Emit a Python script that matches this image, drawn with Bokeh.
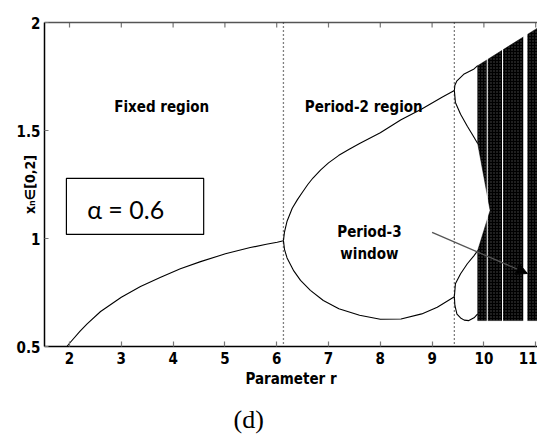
import math
from bokeh.plotting import figure
from bokeh.models import Range1d, LinearAxis, FixedTicker, Label, Arrow, NormalHead, Span, Title
from bokeh.embed import file_html
from bokeh.resources import INLINE

# ---- data ----
fixed_r = [1.95, 2.0, 2.2, 2.34, 2.6, 3.0, 3.37, 3.76, 4.14, 4.53, 5.01, 5.49, 5.8, 6.01, 6.13]
fixed_x = [0.50, 0.515, 0.57, 0.605, 0.662, 0.728, 0.778, 0.821, 0.86, 0.893, 0.929, 0.958, 0.973, 0.983, 0.99]

upper2_r = [6.13, 6.15, 6.2, 6.3, 6.4, 6.5, 6.6, 6.7, 6.85, 7.0, 7.2, 7.4, 7.6, 8.0, 8.4, 8.8, 9.2, 9.43]
upper2_x = [0.99, 1.03, 1.08, 1.14, 1.18, 1.215, 1.25, 1.28, 1.318, 1.35, 1.385, 1.413, 1.44, 1.49, 1.55, 1.60, 1.655, 1.685]

lower2_r = [6.13, 6.15, 6.2, 6.33, 6.46, 6.65, 6.9, 7.2, 7.6, 8.0, 8.4, 8.8, 9.1, 9.43]
lower2_x = [0.99, 0.95, 0.91, 0.85, 0.806, 0.76, 0.713, 0.675, 0.645, 0.626, 0.627, 0.651, 0.682, 0.73]

upper4a_r = [9.43, 9.44, 9.48, 9.61, 9.81, 9.88]
upper4a_x = [1.685, 1.71, 1.73, 1.76, 1.785, 1.80]
upper4b_r = [9.43, 9.45, 9.55, 9.68, 9.78, 9.88]
upper4b_x = [1.685, 1.63, 1.575, 1.52, 1.48, 1.44]
lower4a_r = [9.43, 9.45, 9.55, 9.68, 9.81, 9.88]
lower4a_x = [0.73, 0.79, 0.837, 0.883, 0.921, 0.944]
lower4b_r = [9.43, 9.44, 9.48, 9.55, 9.62, 9.71, 9.81, 9.88]
lower4b_x = [0.73, 0.69, 0.65, 0.632, 0.622, 0.62, 0.633, 0.651]

# chaotic band envelope (r, x) going round the black region
chaos_r = [9.88, 9.88, 10.12, 9.88, 9.88, 11.04, 11.04]
chaos_x = [0.62, 0.944, 1.13, 1.44, 1.80, 1.975, 0.62]

# white periodic windows inside the chaotic band
window_left = [10.055, 10.35, 10.76]
window_right = [10.075, 10.37, 10.84]

boundaries = [6.13, 9.43]

x_ticks = [2, 3, 4, 5, 6, 7, 8, 9, 10, 11]
y_ticks = [0.5, 1.0, 1.5, 2.0]
y_tick_labels = {0.5: "0.5", 1.0: "1", 1.5: "1.5", 2.0: "2"}

BOLD = "DejaVu Sans Condensed"

p = figure(frame_width=493, frame_height=324, output_backend="svg", toolbar_location=None,
           x_range=Range1d(1.517, 11.035), y_range=Range1d(0.5, 2.0),
           min_border_left=44, min_border_right=0, min_border_top=22, min_border_bottom=5,
           x_axis_location=None, y_axis_location=None)
p.outline_line_color = None
p.xgrid.visible = False
p.ygrid.visible = False
p.background_fill_color = "white"
p.border_fill_color = "white"

def style_axis(ax, line_color):
    ax.axis_line_color = line_color
    ax.axis_line_width = 1.5
    ax.major_tick_in = 5
    ax.major_tick_out = 0
    ax.minor_tick_line_color = None
    ax.major_tick_line_color = "#777777"
    ax.major_tick_line_width = 1.2
    ax.major_label_text_font = BOLD
    ax.major_label_text_font_style = "bold"
    ax.major_label_text_font_size = "15px"
    ax.major_label_text_color = "black"

xb = LinearAxis(ticker=FixedTicker(ticks=x_ticks), axis_label="Parameter r")
style_axis(xb, "black")
xb.major_label_standoff = 5
xb.axis_label_text_font = BOLD
xb.axis_label_text_font_style = "bold"
xb.axis_label_text_font_size = "15px"
xb.axis_label_text_color = "black"
xb.axis_label_standoff = 3
p.add_layout(xb, "below")

xt = LinearAxis(ticker=FixedTicker(ticks=[]))
xt.axis_line_color = "#555555"
xt.axis_line_width = 1.5
xt.minor_tick_line_color = None
p.add_layout(xt, "above")
# inward top ticks
p.segment(x0=x_ticks, x1=x_ticks, y0=[2.0] * len(x_ticks), y1=[1.977] * len(x_ticks),
          line_color="#777777", line_width=1.2)

yl = LinearAxis(ticker=FixedTicker(ticks=y_ticks), axis_label="xₙ∈[0,2]")
style_axis(yl, "black")
yl.major_tick_in = 4
yl.major_label_overrides = y_tick_labels
yl.major_label_standoff = 4
yl.axis_label_text_font = BOLD
yl.axis_label_text_font_style = "bold"
yl.axis_label_text_font_size = "14px"
yl.axis_label_text_color = "black"
yl.axis_label_standoff = -24
p.add_layout(yl, "left")

# region boundaries (dotted)
for b in boundaries:
    p.add_layout(Span(location=b, dimension="height", line_color="black",
                      line_dash="1 3", line_width=1.3))

# chaos
p.patch(chaos_r, chaos_x, fill_color="black", line_color="black", line_width=0.5,
        hatch_pattern="dot", hatch_color="white", hatch_scale=3, hatch_alpha=0.3)
p.quad(left=window_left, right=window_right, bottom=[0.6] * 3, top=[2.0] * 3,
       fill_color="white", line_color=None)

# curves
for rr, xx in [(fixed_r, fixed_x), (upper2_r, upper2_x), (lower2_r, lower2_x),
               (upper4a_r, upper4a_x), (upper4b_r, upper4b_x),
               (lower4a_r, lower4a_x), (lower4b_r, lower4b_x)]:
    p.line(rr, xx, line_color="black", line_width=1.1)

# alpha box
p.quad(left=[1.94], right=[4.59], bottom=[1.019], top=[1.278],
       fill_color="white", line_color="black", line_width=1.2)
p.add_layout(Label(x=2.34, y=1.135, text="α = 0.6", text_font="Lato", text_font_size="25px",
                   text_baseline="middle", text_align="left", text_color="black"))

def blabel(x, y, t, size="15px", **kw):
    p.add_layout(Label(x=x, y=y, text=t, text_font=BOLD, text_font_style="bold",
                       text_font_size=size, text_align="center", text_baseline="middle",
                       text_color="black", **kw))

blabel(3.78, 1.607, "Fixed region")
blabel(7.68, 1.607, "Period-2 region")
blabel(7.79, 1.028, "Period-3")
blabel(7.79, 0.93, "window")

p.add_layout(Arrow(end=NormalHead(size=11, fill_color="black", line_color="black"),
                   x_start=9.0, y_start=1.028, x_end=10.84, y_end=0.838,
                   line_color="#555555", line_width=1.3))

p.add_layout(Title(text="(d)", align="left", offset=189, text_font="Liberation Serif",
                   text_font_size="26px", text_font_style="normal", text_color="black",
                   standoff=24), "below")

open("out.html", "w").write(file_html(p, INLINE))
